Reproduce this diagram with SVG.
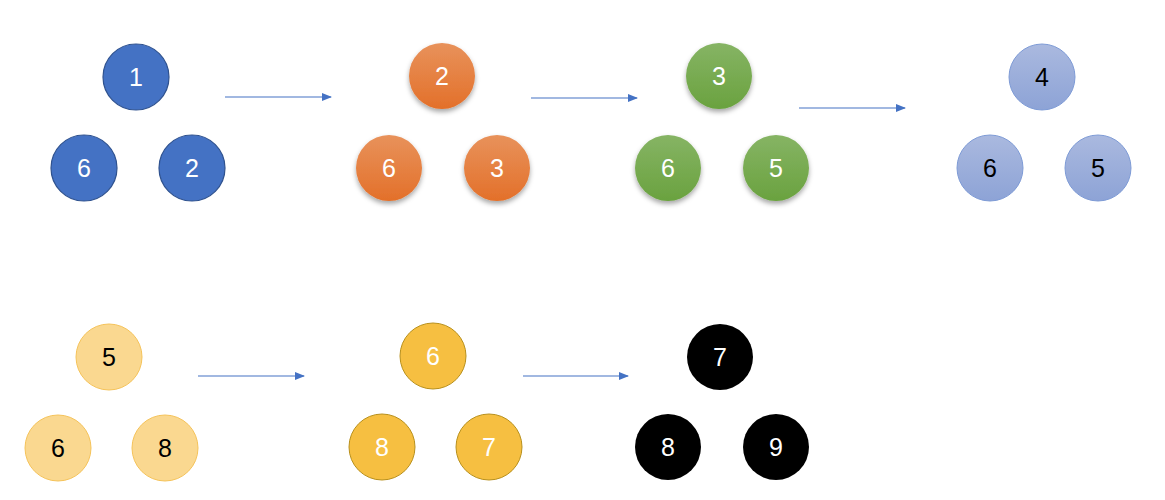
<svg xmlns="http://www.w3.org/2000/svg" width="1165" height="500" viewBox="0 0 1165 500">
<style>
text{font-family:"Liberation Sans",Arial,sans-serif;font-size:25px;text-anchor:middle;dominant-baseline:central}
.w{fill:#fff}.k{fill:#000}
.blue{fill:#4472C4;stroke:#2F528F;stroke-width:1.2}
.orange{fill:url(#gO);filter:url(#sh)}
.green{fill:url(#gG);filter:url(#sh)}
.lblue{fill:url(#gL);stroke:#7E9BD6;stroke-width:1}
.lyel{fill:#FAD890;stroke:#F5C35A;stroke-width:1}
.yel{fill:#F6BF41;stroke:#B8901C;stroke-width:1}
.blk{fill:#000}
.arr{stroke:#4472C4;stroke-width:1.2;fill:none;marker-end:url(#ah)}
</style>
<defs>
<linearGradient id="gO" x1="0" y1="0" x2="0" y2="1"><stop offset="0" stop-color="#E8925B"/><stop offset="1" stop-color="#E3702A"/></linearGradient>
<linearGradient id="gG" x1="0" y1="0" x2="0" y2="1"><stop offset="0" stop-color="#86B464"/><stop offset="1" stop-color="#6AA23F"/></linearGradient>
<linearGradient id="gL" x1="0" y1="0" x2="0" y2="1"><stop offset="0" stop-color="#AAB9DF"/><stop offset="1" stop-color="#8DA3D6"/></linearGradient>
<filter id="sh" x="-30%" y="-30%" width="160%" height="170%"><feDropShadow dx="0" dy="3" stdDeviation="2.5" flood-color="#000" flood-opacity="0.35"/></filter>
<marker id="ah" markerWidth="10" markerHeight="8" refX="9" refY="4" orient="auto" markerUnits="userSpaceOnUse"><path d="M0,0 L10,4 L0,8 Z" fill="#4472C4"/></marker>
</defs>
<g id="connectors">
<line class="arr" x1="225" y1="97" x2="331" y2="97"/>
<line class="arr" x1="531" y1="98" x2="637" y2="98"/>
<line class="arr" x1="799" y1="108" x2="905" y2="108"/>
<line class="arr" x1="198" y1="376" x2="304" y2="376"/>
<line class="arr" x1="523" y1="376" x2="628" y2="376"/>
</g>
<g id="n1a"><circle class="blue" cx="136" cy="77" r="33"/><text class="w" x="136" y="77">1</text></g>
<g id="n1b"><circle class="blue" cx="84" cy="168" r="33"/><text class="w" x="84" y="168">6</text></g>
<g id="n1c"><circle class="blue" cx="192" cy="168" r="33"/><text class="w" x="192" y="168">2</text></g>
<g id="n2a"><circle class="orange" cx="442" cy="76" r="33"/><text class="w" x="442" y="76">2</text></g>
<g id="n2b"><circle class="orange" cx="389" cy="168" r="33"/><text class="w" x="389" y="168">6</text></g>
<g id="n2c"><circle class="orange" cx="497" cy="168" r="33"/><text class="w" x="497" y="168">3</text></g>
<g id="n3a"><circle class="green" cx="719" cy="76" r="33"/><text class="w" x="719" y="76">3</text></g>
<g id="n3b"><circle class="green" cx="668" cy="168" r="33"/><text class="w" x="668" y="168">6</text></g>
<g id="n3c"><circle class="green" cx="776" cy="168" r="33"/><text class="w" x="776" y="168">5</text></g>
<g id="n4a"><circle class="lblue" cx="1042" cy="77" r="33"/><text class="k" x="1042" y="77">4</text></g>
<g id="n4b"><circle class="lblue" cx="990" cy="168" r="33"/><text class="k" x="990" y="168">6</text></g>
<g id="n4c"><circle class="lblue" cx="1098" cy="168" r="33"/><text class="k" x="1098" y="168">5</text></g>
<g id="n5a"><circle class="lyel" cx="109" cy="357" r="33"/><text class="k" x="109" y="357">5</text></g>
<g id="n5b"><circle class="lyel" cx="58" cy="448" r="33"/><text class="k" x="58" y="448">6</text></g>
<g id="n5c"><circle class="lyel" cx="165" cy="448" r="33"/><text class="k" x="165" y="448">8</text></g>
<g id="n6a"><circle class="yel" cx="433" cy="356" r="33"/><text class="w" x="433" y="356">6</text></g>
<g id="n6b"><circle class="yel" cx="382" cy="447" r="33"/><text class="w" x="382" y="447">8</text></g>
<g id="n6c"><circle class="yel" cx="489" cy="447" r="33"/><text class="w" x="489" y="447">7</text></g>
<g id="n7a"><circle class="blk" cx="720" cy="357" r="33"/><text class="w" x="720" y="357">7</text></g>
<g id="n7b"><circle class="blk" cx="668" cy="447" r="33"/><text class="w" x="668" y="447">8</text></g>
<g id="n7c"><circle class="blk" cx="776" cy="447" r="33"/><text class="w" x="776" y="447">9</text></g>
</svg>
